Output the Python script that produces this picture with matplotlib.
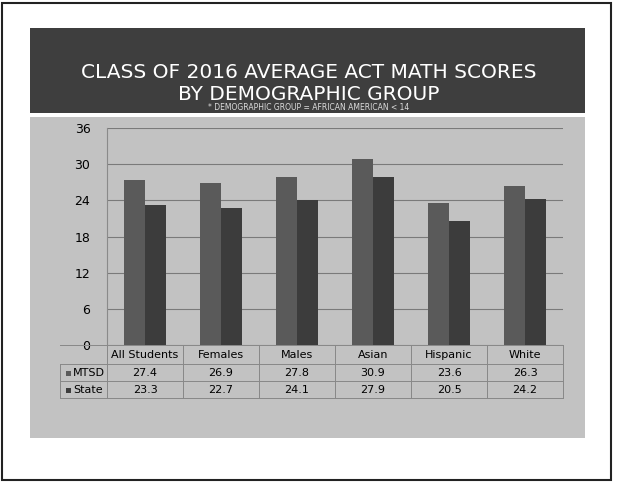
import numpy as np
import matplotlib
matplotlib.use('Agg')
import matplotlib.pyplot as plt
from matplotlib.patches import Rectangle

# dados
grupos = ['All Students', 'Females', 'Males', 'Asian', 'Hispanic', 'White']
mtsd = [27.4, 26.9, 27.8, 30.9, 23.6, 26.3]
state = [23.3, 22.7, 24.1, 27.9, 20.5, 24.2]
series = ['MTSD', 'State']
yticks = [0, 6, 12, 18, 24, 30, 36]

titulo1 = 'CLASS OF 2016 AVERAGE ACT MATH SCORES'
titulo2 = 'BY DEMOGRAPHIC GROUP'
subtitulo = '* DEMOGRAPHIC GROUP = AFRICAN AMERICAN < 14'

cor_mtsd = '#5a5a5a'
cor_state = '#3c3c3c'
W, H = 617, 482


def fx(px):
    return px / W


def fy(py):
    return 1 - py / H


fig = plt.figure(figsize=(W / 100, H / 100), dpi=100)
fig.patch.set_facecolor('white')

# moldura da pagina
fig.patches.append(Rectangle((fx(2), fy(480)), fx(611) - fx(2), fy(3) - fy(480),
                             transform=fig.transFigure, fill=False, ec='#222222', lw=1.5, zorder=-5))
# faixa do titulo
fig.patches.append(Rectangle((fx(30), fy(113)), fx(585) - fx(30), fy(28) - fy(113),
                             transform=fig.transFigure, fc='#3e3e3e', ec='none', zorder=-5))
# fundo do slide
fig.patches.append(Rectangle((fx(30), fy(438)), fx(585) - fx(30), fy(117) - fy(438),
                             transform=fig.transFigure, fc='#c2c2c2', ec='none', zorder=-5))

fig.text(0.5, fy(73), titulo1, color='white', ha='center', va='center', fontsize=14.5)
fig.text(0.5, fy(94), titulo2, color='white', ha='center', va='center', fontsize=14.5)
fig.text(0.5, fy(107), subtitulo, color='#dddddd', ha='center', va='center', fontsize=5.5)

################################ grafico ################################
ax = fig.add_axes([fx(107), fy(345), fx(563) - fx(107), fy(128) - fy(345)])
ax.patch.set_alpha(0)
x = np.arange(len(grupos))
w = 0.28
ax.bar(x - w / 2, mtsd, w, color=cor_mtsd, zorder=3)
ax.bar(x + w / 2, state, w, color=cor_state, zorder=3)
ax.set_xlim(-0.5, len(grupos) - 0.5)
ax.set_ylim(0, 36)
ax.set_yticks(yticks)
ax.tick_params(axis='y', length=0, labelsize=9, pad=12)
ax.set_xticks([])
ax.grid(axis='y', color='#7a7a7a', lw=0.8, zorder=0)
for s in ['top', 'right', 'bottom']:
    ax.spines[s].set_visible(False)
ax.spines['left'].set_color('#8a8a8a')

################################ tabela ################################
col_w = (563 - 107) / len(grupos)
linhas_y = [345, 364, 381, 398]
for y in linhas_y:
    fig.add_artist(plt.Line2D([fx(60), fx(563)], [fy(y), fy(y)], color='#888888', lw=0.7))
for i in range(len(grupos) + 1):
    xx = 107 + i * col_w
    fig.add_artist(plt.Line2D([fx(xx), fx(xx)], [fy(345), fy(398)], color='#888888', lw=0.7))
fig.add_artist(plt.Line2D([fx(60), fx(60)], [fy(364), fy(398)], color='#888888', lw=0.7))

for i, g in enumerate(grupos):
    cx = 107 + (i + 0.5) * col_w
    fig.text(fx(cx), fy(355), g, ha='center', va='center', fontsize=8)
    fig.text(fx(cx), fy(373), f'{mtsd[i]:.1f}', ha='center', va='center', fontsize=8)
    fig.text(fx(cx), fy(390), f'{state[i]:.1f}', ha='center', va='center', fontsize=8)

for nome, cor, yy in zip(series, [cor_mtsd, cor_state], [373, 390]):
    fig.patches.append(Rectangle((fx(66), fy(yy + 3)), fx(5), 5 / H,
                                 transform=fig.transFigure, fc=cor, ec='none'))
    fig.text(fx(73), fy(yy), nome, ha='left', va='center', fontsize=8)

fig.savefig('out.png', dpi=100)
